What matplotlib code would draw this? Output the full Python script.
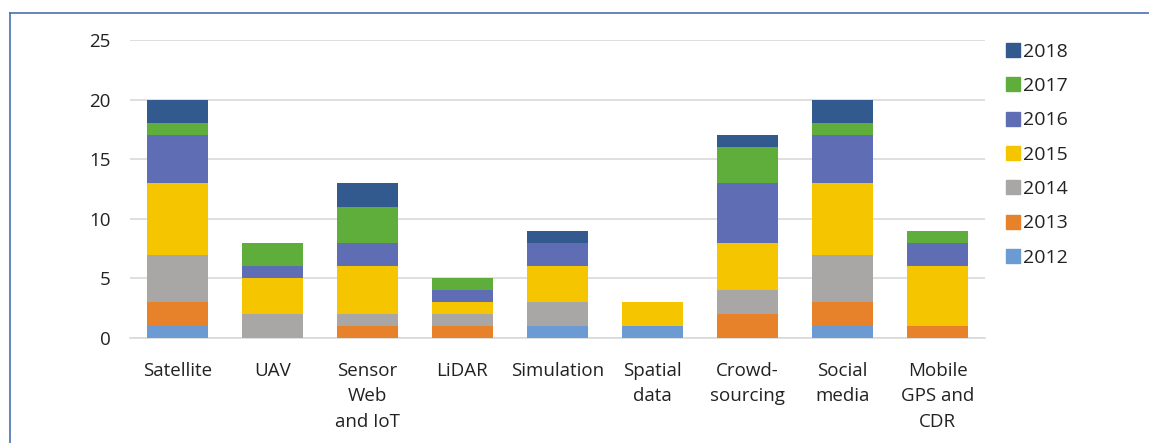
import matplotlib
matplotlib.use("Agg")
import matplotlib.pyplot as plt
from matplotlib.lines import Line2D
import numpy as np

categories = ["Satellite", "UAV", "Sensor\nWeb\nand IoT", "LiDAR", "Simulation",
              "Spatial\ndata", "Crowd-\nsourcing", "Social\nmedia", "Mobile\nGPS and\nCDR"]
years = ["2012", "2013", "2014", "2015", "2016", "2017", "2018"]
v2012 = [1, 0, 0, 0, 1, 1, 0, 1, 0]
v2013 = [2, 0, 1, 1, 0, 0, 2, 2, 1]
v2014 = [4, 2, 1, 1, 2, 0, 2, 4, 0]
v2015 = [6, 3, 4, 1, 3, 2, 4, 6, 5]
v2016 = [4, 1, 2, 1, 2, 0, 5, 4, 2]
v2017 = [1, 2, 3, 1, 0, 0, 3, 1, 1]
v2018 = [2, 0, 2, 0, 1, 0, 1, 2, 0]
series = [v2012, v2013, v2014, v2015, v2016, v2017, v2018]
colors = ["#6b9bd2", "#e8822a", "#a8a7a5", "#f5c600", "#5f6db4", "#5fae3c", "#335a8f"]
yticks = [0, 5, 10, 15, 20, 25]

plt.rcParams['font.family'] = ['Open Sans', 'DejaVu Sans']
fig = plt.figure(figsize=(11.49, 4.43), dpi=100)
ax = fig.add_axes([130/1149, 105/443, 855/1149, 298/443])

x = np.arange(len(categories))
bottom = np.zeros(len(categories))
handles = []
for yr, vals, c in zip(years, series, colors):
    ax.bar(x, vals, width=0.65, bottom=bottom, color=c, zorder=3)
    bottom += np.array(vals)
    handles.append(Line2D([0], [0], marker='s', linestyle='none', markersize=10,
                          markerfacecolor=c, markeredgecolor=c, label=yr))

ax.set_xlim(-0.5, len(categories) - 0.5)
ax.set_ylim(0, 25)
ax.set_yticks(yticks)
ax.set_yticklabels([str(t) for t in yticks], fontsize=13.5, color="#222222")
ax.set_xticks(x)
ax.set_xticklabels(categories, fontsize=13.5, color="#222222", linespacing=1.55)
ax.tick_params(axis='both', length=0)
ax.tick_params(axis='y', pad=14)
ax.tick_params(axis='x', pad=17)
ax.grid(axis='y', color="#d9d9d9", linewidth=1.2, zorder=0)
for s in ["top", "right", "left"]:
    ax.spines[s].set_visible(False)
ax.spines["bottom"].set_color("#d9d9d9")
ax.spines["bottom"].set_linewidth(1.2)

leg = fig.legend(handles=handles[::-1], loc="upper left", bbox_to_anchor=(995/1149, 1 - 35/443),
                 frameon=False, fontsize=14, handletextpad=0.05, labelspacing=0.84,
                 handlelength=1.0, borderaxespad=0)
for t in leg.get_texts():
    t.set_color("#222222")

# frame lines (left and top)
fig.add_artist(Line2D([10/1149, 10/1149], [0, 1 - 13/443], transform=fig.transFigure,
                      color="#4a6fb0", linewidth=1.2))
fig.add_artist(Line2D([10/1149, 1], [1 - 13/443, 1 - 13/443], transform=fig.transFigure,
                      color="#4a6fb0", linewidth=1.2))

fig.savefig("out.png", dpi=100)
